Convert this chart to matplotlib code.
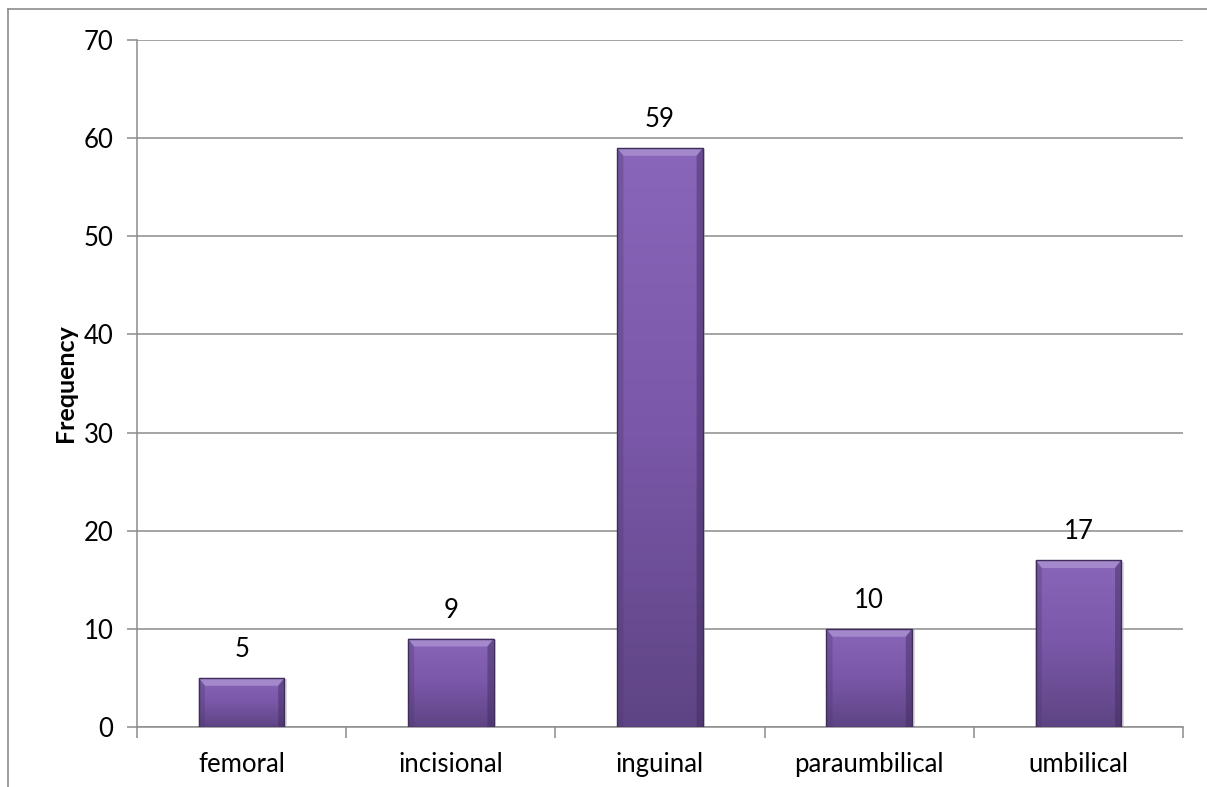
import numpy as np
import matplotlib.pyplot as plt
from matplotlib.patches import Rectangle, Polygon
from matplotlib.colors import LinearSegmentedColormap

plt.rcParams['font.family'] = ['Lato', 'DejaVu Sans']

categories = ["femoral", "incisional", "inguinal", "paraumbilical", "umbilical"]
frequency = [5, 9, 59, 10, 17]

fig = plt.figure(figsize=(12.07, 7.87), dpi=100)
ax = fig.add_axes([137 / 1207, 1 - 727 / 787, (1183 - 137) / 1207, (727 - 40) / 787])

# outer chart frame (top and left only)
fig.add_artist(plt.Line2D([8 / 1207, 1], [1 - 9 / 787, 1 - 9 / 787], color="#8c8c8c", lw=1.2))
fig.add_artist(plt.Line2D([8 / 1207, 8 / 1207], [0, 1 - 9 / 787], color="#8c8c8c", lw=1.2))

ax.set_xlim(-0.5, len(categories) - 0.5)
ax.set_ylim(0, 70)
ax.set_yticks(range(0, 71, 10))
ax.yaxis.grid(True, color="#8c8c8c", lw=1.1)
ax.set_axisbelow(True)

for side in ["top", "right"]:
    ax.spines[side].set_visible(False)
for side in ["left", "bottom"]:
    ax.spines[side].set_color("#8c8c8c")
    ax.spines[side].set_linewidth(1.1)

ax.set_xticks(range(len(categories)))
ax.set_xticklabels(categories)
ax.tick_params(axis="x", length=0, pad=18, labelsize=18.5)
ax.tick_params(axis="y", length=7, color="#8c8c8c", width=1.1, pad=10, labelsize=18.5)
# tick marks between categories
ax.set_xticks(np.arange(-0.5, len(categories)), minor=True)
ax.tick_params(axis="x", which="minor", length=8, color="#8c8c8c", width=1.1)

ax.set_ylabel("Frequency", fontsize=18, fontweight="bold", labelpad=5)

cmap = LinearSegmentedColormap.from_list("purp", ["#5e4484", "#7a57a8", "#8a66ba"])
grad = np.linspace(0, 1, 256).reshape(-1, 1)
bw = 0.41

for i, v in enumerate(frequency):
    x0, x1 = i - bw / 2, i + bw / 2
    # soft shadow
    ax.add_patch(Rectangle((x0 + 0.012, 0), bw, v - 0.15, facecolor="#bbbbbb", alpha=0.5,
                           edgecolor="none", zorder=2))
    im = ax.imshow(grad, extent=[x0, x1, 0, v], origin="lower", cmap=cmap,
                   aspect="auto", zorder=3)
    clip = Rectangle((x0, 0), bw, v, transform=ax.transData)
    im.set_clip_path(clip)
    # bevel on the top edge
    b = 0.8
    dx = 0.03
    ax.add_patch(Polygon([[x0, v], [x1, v], [x1 - dx, v - b], [x0 + dx, v - b]],
                         closed=True, facecolor="#a488cc", edgecolor="none", zorder=4))
    ax.add_patch(Polygon([[x0, v], [x0 + dx, v - b], [x0 + dx, 0], [x0, 0]],
                         closed=True, facecolor="#4f3872", alpha=0.35, edgecolor="none", zorder=4))
    ax.add_patch(Polygon([[x1, v], [x1 - dx, v - b], [x1 - dx, 0], [x1, 0]],
                         closed=True, facecolor="#3e2a5c", alpha=0.45, edgecolor="none", zorder=4))
    ax.add_patch(Rectangle((x0, 0), bw, v, facecolor="none", edgecolor="#3e2d58",
                           lw=1.0, zorder=5))
    ax.text(i, v + 1.6, str(v), ha="center", va="bottom", fontsize=18.5, zorder=6)

fig.savefig("out.png", dpi=100)
